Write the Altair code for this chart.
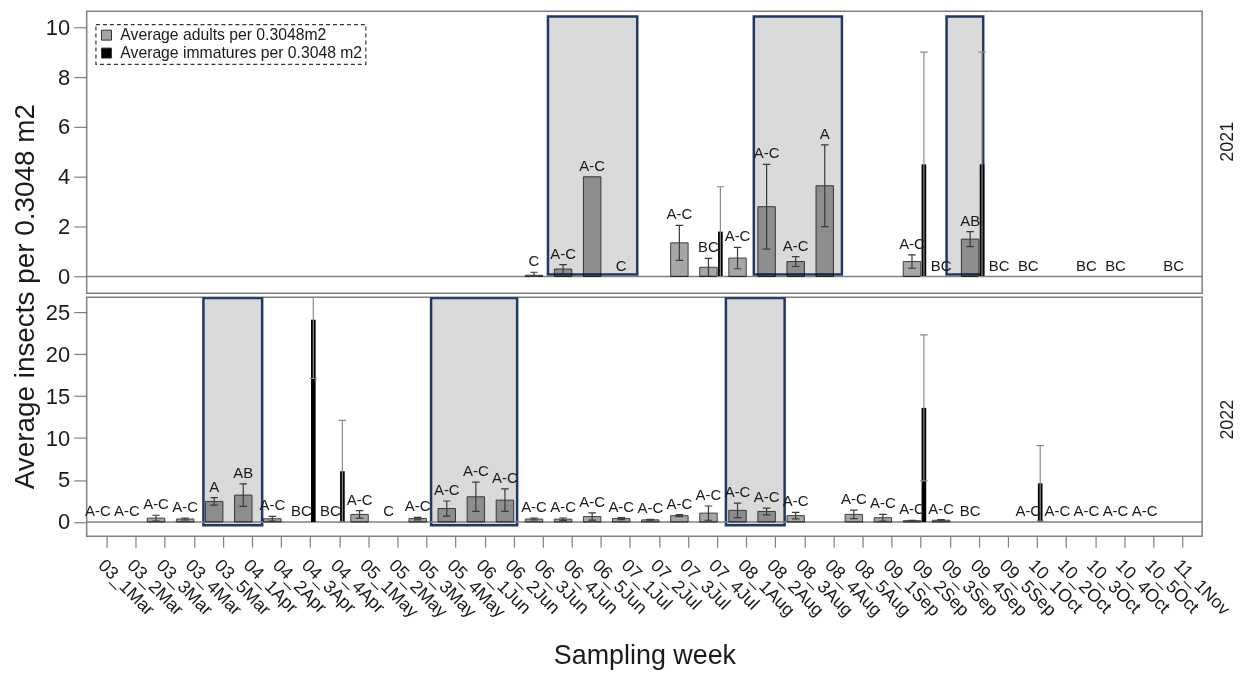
import altair as alt
import pandas as pd

FONT = "Liberation Sans"
C_ADULT = "Average adults per 0.3048m2"
C_IMM = "Average immatures per 0.3048 m2"

weeks = ["03_1Mar", "03_2Mar", "03_3Mar", "03_4Mar", "03_5Mar",
         "04_1Apr", "04_2Apr", "04_3Apr", "04_4Apr",
         "05_1May", "05_2May", "05_3May", "05_4May",
         "06_1Jun", "06_2Jun", "06_3Jun", "06_4Jun", "06_5Jun",
         "07_1Jul", "07_2Jul", "07_3Jul", "07_4Jul",
         "08_1Aug", "08_2Aug", "08_3Aug", "08_4Aug", "08_5Aug",
         "09_1Sep", "09_2Sep", "09_3Sep", "09_4Sep", "09_5Sep",
         "10_1Oct", "10_2Oct", "10_3Oct", "10_4Oct", "10_5Oct",
         "11_1Nov"]

N = None
# ---- 2021 ----  (Mar | Apr | May | Jun | Jul | Aug | Sep | Oct | Nov)
adult_2021 = [N, N, N, N, N,  N, N, N, N,  N, N, N, N,  N, N, 0.05, 0.30, 4.00,
              0.00, N, 1.35, 0.37,  0.74, 2.80, 0.60, 3.64, N,  N, 0.60, 0.00, 1.50, 0.00,
              0.00, N, 0.00, 0.00, N,  0.00]
adult_se_2021 = [N, N, N, N, N,  N, N, N, N,  N, N, N, N,  N, N, 0.12, 0.18, 0.00,
                 0.00, N, 0.70, 0.36,  0.43, 1.70, 0.20, 1.64, N,  N, 0.27, 0.00, 0.30, 0.00,
                 0.00, N, 0.00, 0.00, N,  0.00]
letters_2021 = [N, N, N, N, N,  N, N, N, N,  N, N, N, N,  N, N, "C", "A-C", "A-C",
                "C", N, "A-C", "BC",  "A-C", "A-C", "A-C", "A", N,  N, "A-C", "BC", "AB", "BC",
                "BC", N, "BC", "BC", N,  "BC"]
imm_2021 = [N, N, N, N, N,  N, N, N, N,  N, N, N, N,  N, N, N, N, N,
            N, N, N, 1.80,  N, N, N, N, N,  N, 4.50, N, 4.50, N,
            N, N, N, N, N,  N]
imm_se_2021 = [N, N, N, N, N,  N, N, N, N,  N, N, N, N,  N, N, N, N, N,
               N, N, N, 1.80,  N, N, N, N, N,  N, 4.50, N, 4.50, N,
               N, N, N, N, N,  N]

# ---- 2022 ----
adult_2022 = [0.00, 0.00, 0.45, 0.35, 2.45,  3.20, 0.38, 0.00, 0.00,  0.90, 0.00, 0.40, 1.60,
              3.00, 2.60, 0.35, 0.33, 0.64,  0.40, 0.25, 0.75, 1.05,  1.38, 1.25, 0.75, N, 0.90,
              0.50, 0.15, 0.20, 0.00, N,  0.00, 0.00, 0.00, 0.00, 0.00,  N]
adult_se_2022 = [0.00, 0.00, 0.35, 0.12, 0.45,  1.35, 0.28, 0.00, 0.00,  0.45, 0.00, 0.15, 0.90,
                 1.75, 1.35, 0.12, 0.14, 0.43,  0.12, 0.05, 0.12, 0.85,  0.87, 0.40, 0.38, N, 0.50,
                 0.40, 0.05, 0.08, 0.00, N,  0.00, 0.00, 0.00, 0.00, 0.00,  N]
letters_2022 = ["A-C", "A-C", "A-C", "A-C", "A",  "AB", "A-C", "BC", "BC",  "A-C", "C", "A-C", "A-C",
                "A-C", "A-C", "A-C", "A-C", "A-C",  "A-C", "A-C", "A-C", "A-C",
                "A-C", "A-C", "A-C", N, "A-C",  "A-C", "A-C", "A-C", "BC", N,
                "A-C", "A-C", "A-C", "A-C", "A-C",  N]
imm_2022 = [N, N, N, N, N,  N, N, 24.10, 6.05,  N, N, N, N,  N, N, N, N, N,
            N, N, N, N,  N, N, N, N, N,  N, 13.60, N, N, N,
            4.60, N, N, N, N,  N]
imm_se_2022 = [N, N, N, N, N,  N, N, 7.00, 6.05,  N, N, N, N,  N, N, N, N, N,
               N, N, N, N,  N, N, N, N, N,  N, 8.70, N, N, N,
               4.50, N, N, N, N,  N]

# highlighted periods (in week-index units)
box_year = [2021, 2021, 2021, 2022, 2022, 2022]
box_start = [15.18, 22.26, 28.89, 3.33, 11.16, 21.30]
box_end = [18.25, 25.29, 30.15, 5.35, 14.12, 23.32]
box_low = [0.08, 0.08, 0.08, -0.40, -0.40, -0.40]
box_high = [10.43, 10.43, 10.43, 26.70, 26.70, 26.70]


def frames(adult, adult_se, letters, imm, imm_se, year):
    a, i = [], []
    for k in range(len(weeks)):
        if letters[k] is not None or adult[k] is not None:
            a.append(dict(k=k, mean=adult[k] or 0.0, se=adult_se[k] or 0.0,
                          letter=letters[k] or "", series=C_ADULT))
        if imm[k] is not None:
            i.append(dict(k=k, mean=imm[k], se=imm_se[k] or 0.0, series=C_IMM))
    b = pd.DataFrame(dict(year=box_year, start=box_start, end=box_end,
                          low=box_low, high=box_high))
    b = b[b.year == year]
    return pd.DataFrame(a), pd.DataFrame(i), b


label_expr = "[" + ",".join("'%s'" % w for w in weeks) + "][datum.value]"
W = 1120


def panel(year, ydom, yvals, height, bottom, top, label_y):
    adf, idf, bdf = frames(*(
        (adult_2021, adult_se_2021, letters_2021, imm_2021, imm_se_2021) if year == 2021 else
        (adult_2022, adult_se_2022, letters_2022, imm_2022, imm_se_2022)), year)

    xs = alt.Scale(domain=[-0.685, 37.68], nice=False, zero=False)
    ys = alt.Scale(domain=ydom, nice=False, zero=False)
    if bottom:
        xaxis = alt.Axis(values=list(range(len(weeks))), labelExpr=label_expr, labelAngle=45,
                         labelAlign="left", labelBaseline="top", labelOverlap=False, labelFlush=False,
                         labelFontSize=18, labelFont=FONT, labelColor="#1a1a1a", labelPadding=9,
                         grid=False, domain=False, tickColor="#7f7f7f", tickSize=11, tickWidth=1.2,
                         title="Sampling week", titleFontSize=27, titleFont=FONT,
                         titleFontWeight="normal", titleColor="#1a1a1a",
                         titleBaseline="alphabetic", titleY=128)
    else:
        xaxis = None
    yargs = dict(values=yvals, grid=False, domain=False, tickColor="#7f7f7f", tickSize=13,
                 tickWidth=1.2, labelFontSize=22, labelFont=FONT, labelColor="#1a1a1a",
                 labelPadding=4, labelFlush=False)
    if top:
        yaxis = alt.Axis(title="Average insects per 0.3048 m2", titleFontSize=28, titleFont=FONT,
                         titleFontWeight="normal", titleColor="#1a1a1a", titleAngle=270,
                         titleAlign="center", titleBaseline="alphabetic", titleX=-53, titleY=286,
                         **yargs)
    else:
        yaxis = alt.Axis(title=None, **yargs)

    def X(f):
        return alt.X(f + ":Q", scale=xs, axis=xaxis)

    def Y(f):
        return alt.Y(f + ":Q", scale=ys, axis=yaxis)

    if top:
        color = alt.Color("series:N",
                          scale=alt.Scale(domain=[C_ADULT, C_IMM], range=["#a6a6a6", "#000000"]),
                          legend=alt.Legend(title=None, orient="none", legendX=9, legendY=13,
                                            fillColor="white", strokeColor="#333333", padding=3,
                                            labelFont=FONT, labelFontSize=15.8, labelColor="#1a1a1a",
                                            labelOffset=6, labelLimit=400,
                                            symbolType="square", symbolSize=100,
                                            symbolStrokeColor="#333333", symbolStrokeWidth=1,
                                            rowPadding=1))
        gcol, icol = color, color
    else:
        gcol, icol = alt.value("#a6a6a6"), alt.value("#000000")

    boxes = alt.Chart(bdf).mark_rect(fill="#d9d9d9", stroke="#1f3864", strokeWidth=2.5,
                                     clip=True).encode(
        x=X("start"), x2="end:Q", y=Y("low"), y2="high:Q")

    zero = alt.Chart(pd.DataFrame({"v": [0]})).mark_rule(color="#808080", strokeWidth=1.5).encode(
        y=Y("v"))

    gbars = alt.Chart(adf).transform_filter("datum.mean > 0").transform_calculate(
        x1="datum.k - 0.6", x2="datum.k", y0="0").mark_rect(
        stroke="#404040", strokeWidth=1, blend="multiply").encode(
        x=X("x1"), x2="x2:Q", y=Y("mean"), y2="y0:Q", color=gcol)

    ibars = alt.Chart(idf).transform_calculate(
        x1="datum.k + 0.03", x2="datum.k + 0.19", y0="0").mark_rect().encode(
        x=X("x1"), x2="x2:Q", y=Y("mean"), y2="y0:Q", color=icol)

    def errs(df, center, half, col):
        base = alt.Chart(df).transform_filter("datum.se > 0").transform_calculate(
            xc="datum.k + (%f)" % center,
            c1="datum.k + (%f)" % (center - half),
            c2="datum.k + (%f)" % (center + half),
            lo="max(datum.mean - datum.se, 0)", hi="datum.mean + datum.se")
        line = base.mark_rule(color=col, strokeWidth=1.2, clip=True).encode(
            x=X("xc"), y=Y("lo"), y2="hi:Q")
        caps = base.transform_fold(["lo", "hi"], as_=["end", "yv"]).mark_rule(
            color=col, strokeWidth=1.2, clip=True).encode(x=X("c1"), x2="c2:Q", y=Y("yv"))
        return [line, caps]

    texts = alt.Chart(adf).transform_filter("datum.letter != ''").transform_calculate(
        xc="datum.k - 0.3", top="datum.mean + datum.se").mark_text(
        baseline="alphabetic", dy=-6, fontSize=15, font=FONT, color="#1a1a1a").encode(
        x=X("xc"), y=Y("top"), text="letter:N")

    ylabel = alt.Chart(pd.DataFrame({"year": [str(year)]})).mark_text(
        angle=270, align="center", baseline="top", fontSize=18, font=FONT,
        color="#1a1a1a").encode(text="year:N", x=alt.value(W + 17), y=alt.value(label_y))

    layers = [boxes, zero, gbars, ibars] + errs(adf, -0.3, 0.13, "#3a3a3a") + \
        errs(idf, 0.11, 0.13, "#8a8a8a") + [texts, ylabel]
    return alt.layer(*layers).properties(width=W, height=height)


top = panel(2021, [-0.67, 10.64], [0, 2, 4, 6, 8, 10], 283, bottom=False, top=True, label_y=131)
bot = panel(2022, [-1.7, 26.8], [0, 5, 10, 15, 20, 25], 240, bottom=True, top=False, label_y=123)

chart = alt.vconcat(top, bot, spacing=4, bounds="flush").resolve_scale(
    color="independent").resolve_legend(color="independent").properties(
    padding={"left": 3, "top": 1, "right": 0, "bottom": 0}
).configure_view(stroke="#808080", strokeWidth=1.5).configure_legend(
    strokeDash=[4, 3], strokeWidth=1.2)

chart.save("out.html", embed_options={"renderer": "svg", "actions": False})
